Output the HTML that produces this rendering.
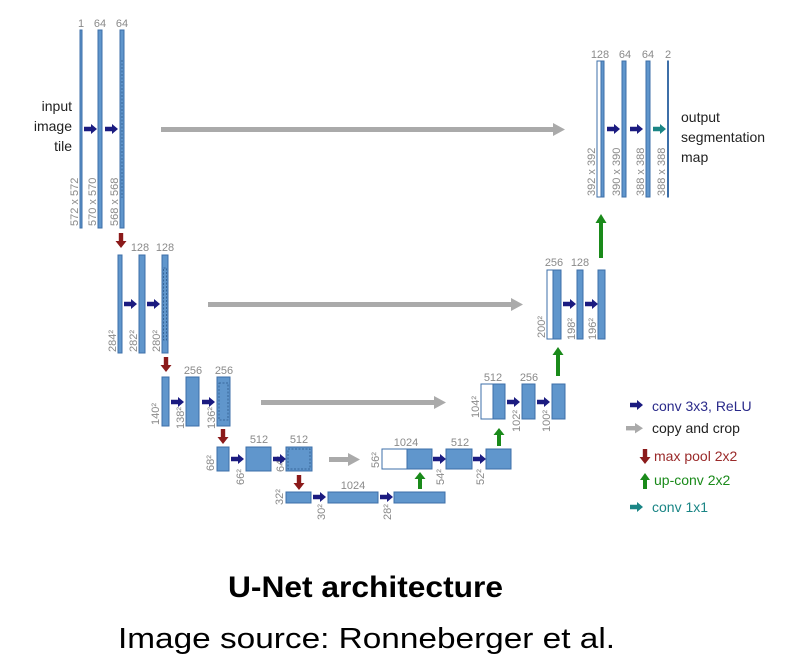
<!DOCTYPE html>
<html><head><meta charset="utf-8"><style>
html,body{margin:0;padding:0;background:#fff;}
svg{display:block;}
text{font-family:"Liberation Sans",sans-serif;}
.b{fill:#6096cc;stroke:#3d6fa8;stroke-width:1;}
.w{fill:#fff;stroke:#3d6fa8;stroke-width:1;}
.n{fill:#8a8a8a;font-size:11px;}
.d{fill:none;stroke:#2d5a8c;stroke-width:0.8;stroke-dasharray:2,1.5;}
</style></head><body>
<svg width="797" height="665" viewBox="0 0 797 665" xmlns="http://www.w3.org/2000/svg">
<defs>
<path id="ca" d="M0,-2.2 H7 V-5 L13,0 L7,5 V2.2 H0 Z" fill="#1b1b80"/>
<path id="ta" d="M0,-2.2 H7 V-5 L13,0 L7,5 V2.2 H0 Z" fill="#1a8585"/>
<path id="ra" d="M-2.2,0 H2.2 V8 H5.5 L0,15 L-5.5,8 H-2.2 Z" fill="#8b1a1a"/>
</defs>

<!-- Level 1 -->
<rect class="b" x="80" y="30" width="2" height="198"/>
<rect class="b" x="98" y="30" width="4" height="198"/>
<rect class="b" x="120" y="30" width="4" height="198"/>
<line class="d" x1="122" y1="60" x2="122" y2="198"/>
<text class="n" x="81" y="27" text-anchor="middle">1</text>
<text class="n" x="100" y="27" text-anchor="middle">64</text>
<text class="n" x="122" y="27" text-anchor="middle">64</text>
<text class="n" transform="translate(78,226) rotate(-90)">572 x 572</text>
<text class="n" transform="translate(96,226) rotate(-90)">570 x 570</text>
<text class="n" transform="translate(118,226) rotate(-90)">568 x 568</text>
<use href="#ca" x="84" y="129"/><use href="#ca" x="105" y="129"/>
<text x="72" y="111" font-size="14" text-anchor="end" fill="#222">input</text>
<text x="72" y="131" font-size="14" text-anchor="end" fill="#222">image</text>
<text x="72" y="151" font-size="14" text-anchor="end" fill="#222">tile</text>
<rect x="161" y="127" width="393" height="5" fill="#aaa"/><path d="M553,123 L565,129.5 L553,136 Z" fill="#aaa"/>

<!-- Level 2 -->
<use href="#ra" x="121" y="233"/>
<rect class="b" x="118" y="255" width="4" height="98"/>
<rect class="b" x="139" y="255" width="6" height="98"/>
<rect class="b" x="162" y="255" width="6" height="98"/>
<rect class="d" x="163.5" y="268" width="3" height="72"/>
<text class="n" x="140" y="251" text-anchor="middle">128</text>
<text class="n" x="165" y="251" text-anchor="middle">128</text>
<text class="n" transform="translate(116,352) rotate(-90)">284²</text>
<text class="n" transform="translate(137,352) rotate(-90)">282²</text>
<text class="n" transform="translate(160,352) rotate(-90)">280²</text>
<use href="#ca" x="124" y="304"/><use href="#ca" x="147" y="304"/>
<rect x="208" y="302" width="304" height="5" fill="#aaa"/><path d="M511,298 L523,304.5 L511,311 Z" fill="#aaa"/>

<!-- Level 3 -->
<use href="#ra" x="166" y="357"/>
<rect class="b" x="162" y="377" width="7" height="49"/>
<rect class="b" x="186" y="377" width="13" height="49"/>
<rect class="b" x="217" y="377" width="13" height="49"/>
<rect class="d" x="219" y="383" width="9" height="37"/>
<text class="n" x="193" y="374" text-anchor="middle">256</text>
<text class="n" x="224" y="374" text-anchor="middle">256</text>
<text class="n" transform="translate(159,425) rotate(-90)">140²</text>
<text class="n" transform="translate(184,429) rotate(-90)">138²</text>
<text class="n" transform="translate(215,429) rotate(-90)">136²</text>
<use href="#ca" x="171" y="402"/><use href="#ca" x="202" y="402"/>
<rect x="261" y="400" width="174" height="5" fill="#aaa"/><path d="M434,396 L446,402.5 L434,409 Z" fill="#aaa"/>

<!-- Level 4 -->
<use href="#ra" x="223" y="429"/>
<rect class="b" x="217" y="447" width="12" height="24"/>
<rect class="b" x="246" y="447" width="25" height="24"/>
<rect class="b" x="286" y="447" width="26" height="24"/>
<rect class="d" x="288" y="449" width="22" height="20"/>
<text class="n" x="259" y="443" text-anchor="middle">512</text>
<text class="n" x="299" y="443" text-anchor="middle">512</text>
<text class="n" transform="translate(214,471) rotate(-90)">68²</text>
<text class="n" transform="translate(244,485) rotate(-90)">66²</text>
<text class="n" transform="translate(284,472) rotate(-90)">64²</text>
<use href="#ca" x="231" y="459"/><use href="#ca" x="273" y="459"/>
<rect x="329" y="457" width="20" height="5" fill="#aaa"/><path d="M348,453 L360,459.5 L348,466 Z" fill="#aaa"/>

<!-- Level 5 -->
<use href="#ra" x="299" y="475"/>
<rect class="b" x="286" y="492" width="25" height="11"/>
<rect class="b" x="328" y="492" width="50" height="11"/>
<rect class="b" x="394" y="492" width="51" height="11"/>
<text class="n" x="353" y="489" text-anchor="middle">1024</text>
<text class="n" transform="translate(283,505) rotate(-90)">32²</text>
<text class="n" transform="translate(325,520) rotate(-90)">30²</text>
<text class="n" transform="translate(391,520) rotate(-90)">28²</text>
<use href="#ca" x="313" y="497"/><use href="#ca" x="380" y="497"/>
<path d="M418,489 V479 H414.5 L420,472 L425.5,479 H422 V489 Z" fill="#1a8a1a"/>

<!-- Up level 4 -->
<rect class="w" x="382" y="449" width="25" height="20"/>
<rect class="b" x="407" y="449" width="25" height="20"/>
<rect class="b" x="446" y="449" width="26" height="20"/>
<rect class="b" x="486" y="449" width="25" height="20"/>
<text class="n" x="406" y="446" text-anchor="middle">1024</text>
<text class="n" x="460" y="446" text-anchor="middle">512</text>
<text class="n" transform="translate(379,468) rotate(-90)">56²</text>
<text class="n" transform="translate(444,485) rotate(-90)">54²</text>
<text class="n" transform="translate(484,485) rotate(-90)">52²</text>
<use href="#ca" x="433" y="459"/><use href="#ca" x="473" y="459"/>
<path d="M497,446 V435 H493.5 L499,428 L504.5,435 H501 V446 Z" fill="#1a8a1a"/>

<!-- Up level 3 -->
<rect class="w" x="481" y="384" width="12" height="35"/>
<rect class="b" x="493" y="384" width="12" height="35"/>
<rect class="b" x="522" y="384" width="13" height="35"/>
<rect class="b" x="552" y="384" width="13" height="35"/>
<text class="n" x="493" y="381" text-anchor="middle">512</text>
<text class="n" x="529" y="381" text-anchor="middle">256</text>
<text class="n" transform="translate(479,418) rotate(-90)">104²</text>
<text class="n" transform="translate(520,432) rotate(-90)">102²</text>
<text class="n" transform="translate(550,432) rotate(-90)">100²</text>
<use href="#ca" x="507" y="402"/><use href="#ca" x="537" y="402"/>
<path d="M556,376 V355 H552.5 L558,347 L563.5,355 H560 V376 Z" fill="#1a8a1a"/>

<!-- Up level 2 -->
<rect class="w" x="547" y="270" width="6" height="69"/>
<rect class="b" x="553" y="270" width="8" height="69"/>
<rect class="b" x="577" y="270" width="6" height="69"/>
<rect class="b" x="598" y="270" width="7" height="69"/>
<text class="n" x="554" y="266" text-anchor="middle">256</text>
<text class="n" x="580" y="266" text-anchor="middle">128</text>
<text class="n" transform="translate(545,338) rotate(-90)">200²</text>
<text class="n" transform="translate(575,340) rotate(-90)">198²</text>
<text class="n" transform="translate(596,340) rotate(-90)">196²</text>
<use href="#ca" x="563" y="304"/><use href="#ca" x="585" y="304"/>
<path d="M599,258 V223 H595.5 L601,214 L606.5,223 H603 V258 Z" fill="#1a8a1a"/>

<!-- Up level 1 -->
<rect class="w" x="597" y="61" width="4" height="136"/>
<rect class="b" x="601" y="61" width="3" height="136"/>
<rect class="b" x="622" y="61" width="4" height="136"/>
<rect class="b" x="646" y="61" width="4" height="136"/>
<rect class="b" x="667.5" y="61" width="1" height="136"/>
<text class="n" x="600" y="58" text-anchor="middle">128</text>
<text class="n" x="625" y="58" text-anchor="middle">64</text>
<text class="n" x="648" y="58" text-anchor="middle">64</text>
<text class="n" x="668" y="58" text-anchor="middle">2</text>
<text class="n" transform="translate(595,196) rotate(-90)">392 x 392</text>
<text class="n" transform="translate(620,196) rotate(-90)">390 x 390</text>
<text class="n" transform="translate(644,196) rotate(-90)">388 x 388</text>
<text class="n" transform="translate(665,196) rotate(-90)">388 x 388</text>
<use href="#ca" x="607" y="129"/><use href="#ca" x="630" y="129"/><use href="#ta" x="653" y="129"/>
<text x="681" y="122" font-size="14" fill="#222">output</text>
<text x="681" y="142" font-size="14" fill="#222">segmentation</text>
<text x="681" y="162" font-size="14" fill="#222">map</text>

<!-- Legend -->
<use href="#ca" x="630" y="405"/>
<text x="652" y="411" font-size="14" fill="#2a2a8a">conv 3x3, ReLU</text>
<rect x="626" y="426" width="10" height="4.4" fill="#aaa"/><path d="M635,423 L643,428.2 L635,433.4 Z" fill="#aaa"/>
<text x="652" y="433" font-size="14" fill="#222">copy and crop</text>
<use href="#ra" x="645" y="449"/>
<text x="654" y="461" font-size="14" fill="#9a2a2a">max pool 2x2</text>
<path d="M643,489 V480 H640 L645,473 L650,480 H647 V489 Z" fill="#1a8a1a"/>
<text x="654" y="485" font-size="14" fill="#1a8a1a">up-conv 2x2</text>
<use href="#ta" x="630" y="507"/>
<text x="652" y="512" font-size="14" fill="#1a8585">conv 1x1</text>

<text x="228" y="597" font-size="30" font-weight="bold" textLength="275" lengthAdjust="spacingAndGlyphs" fill="#000">U-Net architecture</text>
<text x="118" y="648" font-size="29" textLength="497" lengthAdjust="spacingAndGlyphs" fill="#000">Image source: Ronneberger et al.</text>
</svg>
</body></html>
